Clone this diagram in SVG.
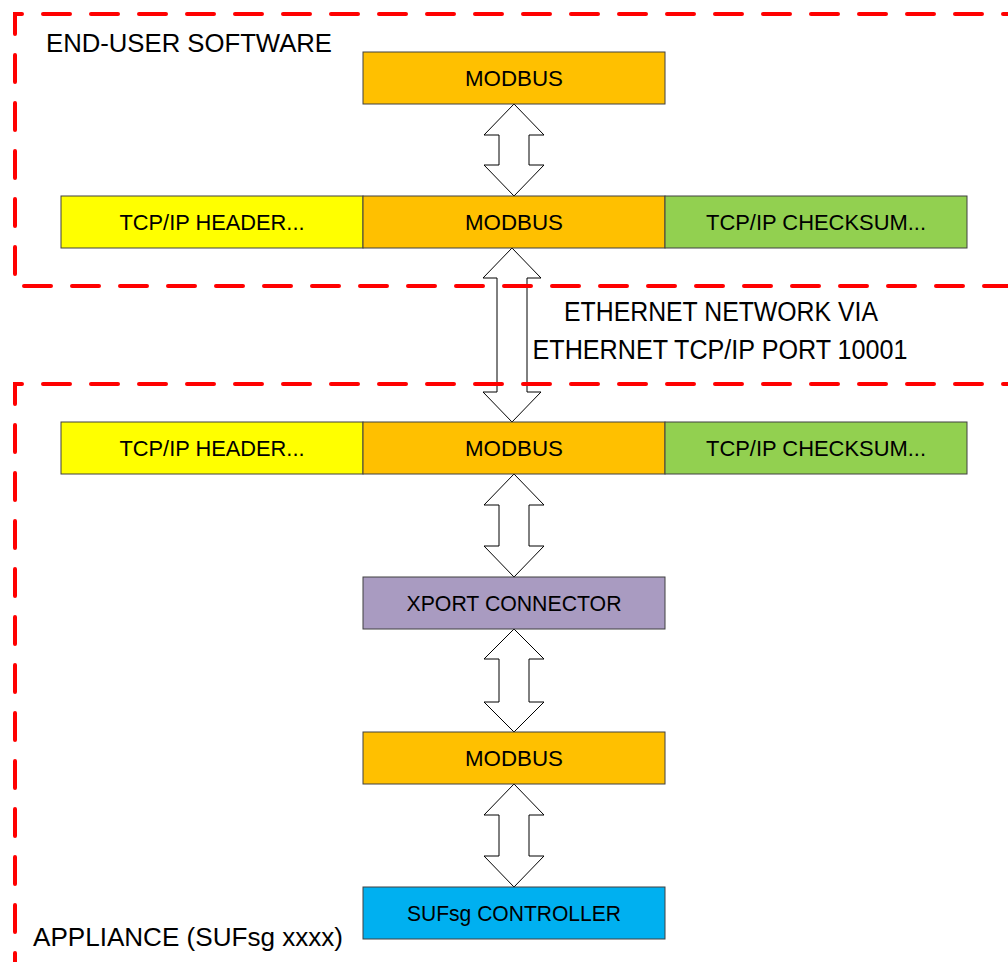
<svg xmlns="http://www.w3.org/2000/svg" width="1008" height="962" viewBox="0 0 1008 962">
<style>
.box{stroke:#404040;stroke-width:1}
.lbl{font-family:"Liberation Sans",Arial,sans-serif;font-size:22px;fill:#000;text-anchor:middle}
.big{font-family:"Liberation Sans",Arial,sans-serif;font-size:25px;fill:#000}
.arrow{fill:#fff;stroke:#000;stroke-width:1;stroke-linejoin:miter}
.zone{fill:none;stroke:#FF0000;stroke-width:4;stroke-dasharray:27 21;stroke-linecap:round}
</style>
<rect width="1008" height="962" fill="#fff"/>
<g id="connectors">
<path class="arrow" d="M514,104 L544,135 L529,135 L529,165 L544,165 L514,196 L484,165 L499,165 L499,135 L484,135 Z"/>
<path class="arrow" d="M512,248 L541,278 L527,278 L527,392 L541,392 L512,422 L483,392 L497,392 L497,278 L483,278 Z"/>
<path class="arrow" d="M514,474 L544,505 L529,505 L529,546 L544,546 L514,577 L484,546 L499,546 L499,505 L484,505 Z"/>
<path class="arrow" d="M514,629 L544,659 L529,659 L529,702 L544,702 L514,732 L484,702 L499,702 L499,659 L484,659 Z"/>
<path class="arrow" d="M514,784 L544,815 L529,815 L529,856 L544,856 L514,887 L484,856 L499,856 L499,815 L484,815 Z"/>
</g>
<g id="zone-enduser">
<path class="zone" d="M1030,14 L15,14 L15,286 L1030,286"/>
<text class="big" x="46" y="52" textLength="286" lengthAdjust="spacingAndGlyphs">END-USER SOFTWARE</text>
</g>
<g id="zone-appliance">
<path class="zone" d="M1030,384 L20,384 L15,384 L15,990"/>
<text class="big" x="33" y="946" textLength="310" lengthAdjust="spacingAndGlyphs">APPLIANCE (SUFsg xxxx)</text>
</g>
<g id="network-label">
<text class="big" x="721" y="321" text-anchor="middle" textLength="314" lengthAdjust="spacingAndGlyphs" style="font-size:27px">ETHERNET NETWORK VIA</text>
<text class="big" x="720" y="359" text-anchor="middle" textLength="375" lengthAdjust="spacingAndGlyphs" style="font-size:27px">ETHERNET TCP/IP PORT 10001</text>
</g>
<g id="modbus-top">
<rect class="box" x="363" y="52" width="302" height="52" fill="#FFC000"/>
<text class="lbl" x="514" y="86" textLength="98" lengthAdjust="spacingAndGlyphs">MODBUS</text>
</g>
<g id="tcp-header-1">
<rect class="box" x="61" y="196" width="302" height="52" fill="#FFFF00"/>
<text class="lbl" x="212" y="230" textLength="185" lengthAdjust="spacingAndGlyphs">TCP/IP HEADER...</text>
</g>
<g id="modbus-1">
<rect class="box" x="363" y="196" width="302" height="52" fill="#FFC000"/>
<text class="lbl" x="514" y="230" textLength="98" lengthAdjust="spacingAndGlyphs">MODBUS</text>
</g>
<g id="tcp-checksum-1">
<rect class="box" x="665" y="196" width="302" height="52" fill="#92D050"/>
<text class="lbl" x="816" y="230" textLength="220" lengthAdjust="spacingAndGlyphs">TCP/IP CHECKSUM...</text>
</g>
<g id="tcp-header-2">
<rect class="box" x="61" y="422" width="302" height="52" fill="#FFFF00"/>
<text class="lbl" x="212" y="456" textLength="185" lengthAdjust="spacingAndGlyphs">TCP/IP HEADER...</text>
</g>
<g id="modbus-2">
<rect class="box" x="363" y="422" width="302" height="52" fill="#FFC000"/>
<text class="lbl" x="514" y="456" textLength="98" lengthAdjust="spacingAndGlyphs">MODBUS</text>
</g>
<g id="tcp-checksum-2">
<rect class="box" x="665" y="422" width="302" height="52" fill="#92D050"/>
<text class="lbl" x="816" y="456" textLength="220" lengthAdjust="spacingAndGlyphs">TCP/IP CHECKSUM...</text>
</g>
<g id="xport">
<rect class="box" x="363" y="577" width="302" height="52" fill="#A99BC1"/>
<text class="lbl" x="514" y="611" textLength="215" lengthAdjust="spacingAndGlyphs">XPORT CONNECTOR</text>
</g>
<g id="modbus-3">
<rect class="box" x="363" y="732" width="302" height="52" fill="#FFC000"/>
<text class="lbl" x="514" y="766" textLength="98" lengthAdjust="spacingAndGlyphs">MODBUS</text>
</g>
<g id="controller">
<rect class="box" x="363" y="887" width="302" height="52" fill="#00B0F0"/>
<text class="lbl" x="514" y="921" textLength="214" lengthAdjust="spacingAndGlyphs">SUFsg CONTROLLER</text>
</g>
</svg>
